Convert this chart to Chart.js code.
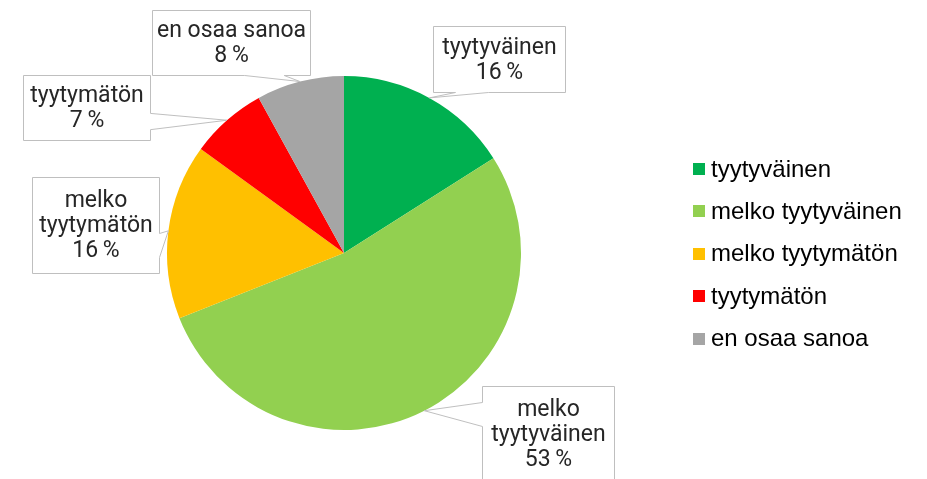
<!DOCTYPE html>
<html lang="fi">
<head>
<meta charset="utf-8">
<title>Tyytyväisyys</title>
<script src="https://cdn.jsdelivr.net/npm/chart.js@4.4.1/dist/chart.umd.min.js"></script>
<style>
    html, body { margin: 0; padding: 0; background: #ffffff; }
    canvas { display: block; }
</style>
</head>
<body>
<canvas id="pieCanvas" width="927" height="479"></canvas>
<script>
// Data
const categories = ['tyytyväinen', 'melko tyytyväinen', 'melko tyytymätön', 'tyytymätön', 'en osaa sanoa'];
const percentages = [16, 53, 16, 7, 8];
const sliceColors = ['#00B050', '#92D050', '#FFC000', '#FF0000', '#A5A5A5'];

// Callout layout: wrap after "melko", box offset from the slice tip and box size
const calloutWrap = [false, true, true, false, false];
const calloutOffsets = [[4, -72], [58, -25], [-136, -54], [-204, -45], [-148, -72]];
const calloutSizes = [[132, 66], [132, 96], [127, 96], [127, 65], [158, 65]];

const calloutPlugin = {
    id: 'callouts',
    afterDatasetsDraw(chart) {
        const ctx = chart.ctx;
        const arcs = chart.getDatasetMeta(0).data;
        ctx.save();
        arcs.forEach((arc, i) => {
            const p = arc.getProps(['x', 'y', 'startAngle', 'endAngle', 'outerRadius'], true);
            const mid = (p.startAngle + p.endAngle) / 2;
            const tx = p.x + Math.cos(mid) * p.outerRadius;
            const ty = p.y + Math.sin(mid) * p.outerRadius;

            const l = Math.round(tx + calloutOffsets[i][0]) + 0.5;
            const t = Math.round(ty + calloutOffsets[i][1]) + 0.5;
            const w = calloutSizes[i][0];
            const h = calloutSizes[i][1];
            const r = l + w, b = t + h;
            const dx = tx - (l + w / 2), dy = ty - (t + h / 2);
            const dz = Math.abs(dy) - Math.abs(dx * h / w);
            const x1 = l + w * (dx > 0 ? 7 : 2) / 12, x2 = l + w * (dx > 0 ? 10 : 5) / 12;
            const y1 = t + h * (dy > 0 ? 7 : 2) / 12, y2 = t + h * (dy > 0 ? 10 : 5) / 12;
            const side = dz > 0 ? (dy < 0 ? 'top' : 'bottom') : (dx < 0 ? 'left' : 'right');

            // wedgeRectCallout shape
            ctx.beginPath();
            ctx.moveTo(l, t);
            if (side === 'top') { ctx.lineTo(x1, t); ctx.lineTo(tx, ty); ctx.lineTo(x2, t); }
            ctx.lineTo(r, t);
            if (side === 'right') { ctx.lineTo(r, y1); ctx.lineTo(tx, ty); ctx.lineTo(r, y2); }
            ctx.lineTo(r, b);
            if (side === 'bottom') { ctx.lineTo(x2, b); ctx.lineTo(tx, ty); ctx.lineTo(x1, b); }
            ctx.lineTo(l, b);
            if (side === 'left') { ctx.lineTo(l, y2); ctx.lineTo(tx, ty); ctx.lineTo(l, y1); }
            ctx.closePath();
            ctx.fillStyle = '#ffffff';
            ctx.fill();
            ctx.strokeStyle = '#BFBFBF';
            ctx.lineWidth = 1;
            ctx.stroke();

            // teksti
            const name = categories[i];
            const lines = calloutWrap[i] ? name.replace(' ', '\n').split('\n') : [name];
            lines.push(percentages[i] + '\u2009%');
            const lh = 25;
            const cy = t + h / 2 - (lines.length - 1) * lh / 2;
            ctx.fillStyle = '#262626';
            ctx.font = '23px Roboto';
            ctx.textAlign = 'center';
            ctx.textBaseline = 'middle';
            lines.forEach((line, k) => ctx.fillText(line, l + w / 2, cy + k * lh + 1));
        });
        ctx.restore();
    }
};

// Oma selite oikealle
const legendPlugin = {
    id: 'rightLegend',
    afterDraw(chart) {
        const ctx = chart.ctx;
        ctx.save();
        ctx.font = '24px "Liberation Sans", Arial, sans-serif';
        ctx.textBaseline = 'middle';
        ctx.textAlign = 'left';
        categories.forEach((name, i) => {
            const y = 169 + i * 42.4;
            ctx.fillStyle = sliceColors[i];
            ctx.fillRect(693, Math.round(y - 6), 12, 12);
            ctx.fillStyle = '#000000';
            ctx.fillText(name, 711, y + 1);
        });
        ctx.restore();
    }
};

const ctx = document.getElementById('pieCanvas').getContext('2d');
new Chart(ctx, {
    type: 'pie',
    data: {
        labels: categories,
        datasets: [{
            data: percentages,
            backgroundColor: sliceColors,
            borderWidth: 0
        }]
    },
    options: {
        responsive: false,
        animation: false,
        layout: {
            padding: { left: 167, right: 406, top: 76, bottom: 49 }
        },
        plugins: {
            legend: { display: false },
            tooltip: { enabled: false }
        }
    },
    plugins: [calloutPlugin, legendPlugin]
});
</script>
</body>
</html>
